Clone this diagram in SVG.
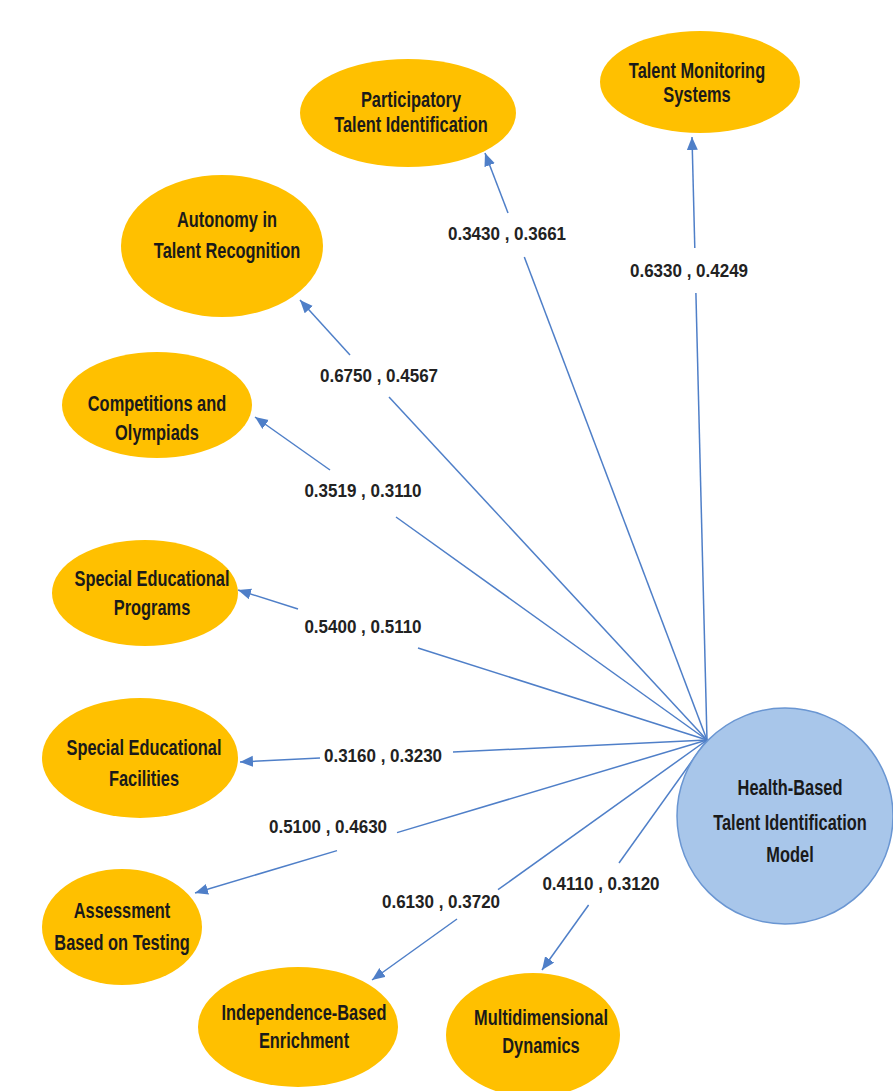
<svg xmlns="http://www.w3.org/2000/svg" width="893" height="1091" viewBox="0 0 893 1091">
  <style>
    .node ellipse { fill: #FFC000; stroke: none; }
    .hub circle { fill: #A8C6EA; stroke: #6A96D2; stroke-width: 1.5; }
    .nt { font-family: "Liberation Sans", Arial, sans-serif; font-weight: bold; font-size: 20px; fill: #1a1a1a; text-anchor: middle; }
    .lb { font-family: "Liberation Sans", Arial, sans-serif; font-weight: bold; font-size: 17px; fill: #222; text-anchor: middle; }
    .conn line { stroke: #4F7FC8; stroke-width: 1.5; fill: none; }
  </style>
  <defs>
    <marker id="ah" markerUnits="userSpaceOnUse" markerWidth="14" markerHeight="12" refX="13" refY="5.5" orient="auto">
      <path d="M0,0 L13,5.5 L0,11 z" fill="#4F7FC8"/>
    </marker>
  </defs>
  <rect width="893" height="1091" fill="#ffffff"/>

  <g id="connectors" class="conn">
    <line x1="694.8" y1="248" x2="692" y2="137" marker-end="url(#ah)"/>
    <line x1="707" y1="740" x2="695.9" y2="293"/>
    <line x1="508" y1="213" x2="485" y2="153" marker-end="url(#ah)"/>
    <line x1="707" y1="740" x2="524.3" y2="257"/>
    <line x1="350" y1="355" x2="300" y2="300" marker-end="url(#ah)"/>
    <line x1="707" y1="740" x2="389" y2="397"/>
    <line x1="330" y1="470" x2="255" y2="417" marker-end="url(#ah)"/>
    <line x1="707" y1="740" x2="396" y2="517"/>
    <line x1="298" y1="609" x2="238" y2="590" marker-end="url(#ah)"/>
    <line x1="707" y1="740" x2="418" y2="648"/>
    <line x1="320" y1="758" x2="240" y2="762" marker-end="url(#ah)"/>
    <line x1="707" y1="740" x2="453" y2="752"/>
    <line x1="337" y1="850.6" x2="195" y2="893" marker-end="url(#ah)"/>
    <line x1="707" y1="740" x2="397" y2="832.6"/>
    <line x1="457" y1="919" x2="372" y2="980" marker-end="url(#ah)"/>
    <line x1="707" y1="740" x2="498" y2="889.7"/>
    <line x1="588.6" y1="905" x2="542" y2="970" marker-end="url(#ah)"/>
    <line x1="707" y1="740" x2="619" y2="863"/>
  </g>

  <g id="labels">
    <text class="lb" transform="translate(507,240) scale(1,1.1)">0.3430 , 0.3661</text>
    <text class="lb" transform="translate(689,277) scale(1,1.1)">0.6330 , 0.4249</text>
    <text class="lb" transform="translate(379,382) scale(1,1.1)">0.6750 , 0.4567</text>
    <text class="lb" transform="translate(363,497) scale(1,1.1)">0.3519 , 0.3110</text>
    <text class="lb" transform="translate(363,633) scale(1,1.1)">0.5400 , 0.5110</text>
    <text class="lb" transform="translate(383,762) scale(1,1.1)">0.3160 , 0.3230</text>
    <text class="lb" transform="translate(328,833) scale(1,1.1)">0.5100 , 0.4630</text>
    <text class="lb" transform="translate(441,908) scale(1,1.1)">0.6130 , 0.3720</text>
    <text class="lb" transform="translate(601,890) scale(1,1.1)">0.4110 , 0.3120</text>
  </g>

  <g id="n-monitoring" class="node">
    <ellipse cx="700" cy="82" rx="100" ry="51"/>
    <text class="nt" transform="translate(697,78) scale(0.82,1.12)">Talent Monitoring</text>
    <text class="nt" transform="translate(697,102) scale(0.82,1.12)">Systems</text>
  </g>
  <g id="n-participatory" class="node">
    <ellipse cx="408" cy="113" rx="108" ry="54"/>
    <text class="nt" transform="translate(411,107) scale(0.82,1.12)">Participatory</text>
    <text class="nt" transform="translate(411,132) scale(0.82,1.12)">Talent Identification</text>
  </g>
  <g id="n-autonomy" class="node">
    <ellipse cx="222" cy="246" rx="101" ry="71"/>
    <text class="nt" transform="translate(227,227) scale(0.82,1.12)">Autonomy in</text>
    <text class="nt" transform="translate(227,258) scale(0.82,1.12)">Talent Recognition</text>
  </g>
  <g id="n-competitions" class="node">
    <ellipse cx="157" cy="405" rx="95" ry="53"/>
    <text class="nt" transform="translate(157,411) scale(0.82,1.12)">Competitions and</text>
    <text class="nt" transform="translate(157,440) scale(0.82,1.12)">Olympiads</text>
  </g>
  <g id="n-programs" class="node">
    <ellipse cx="145" cy="593" rx="93" ry="53"/>
    <text class="nt" transform="translate(152,586) scale(0.82,1.12)">Special Educational</text>
    <text class="nt" transform="translate(152,615) scale(0.82,1.12)">Programs</text>
  </g>
  <g id="n-facilities" class="node">
    <ellipse cx="140" cy="758" rx="98" ry="60"/>
    <text class="nt" transform="translate(144,755) scale(0.82,1.12)">Special Educational</text>
    <text class="nt" transform="translate(144,786) scale(0.82,1.12)">Facilities</text>
  </g>
  <g id="n-assessment" class="node">
    <ellipse cx="122" cy="927" rx="80" ry="58"/>
    <text class="nt" transform="translate(122,918) scale(0.82,1.12)">Assessment</text>
    <text class="nt" transform="translate(122,950) scale(0.82,1.12)">Based on Testing</text>
  </g>
  <g id="n-independence" class="node">
    <ellipse cx="298" cy="1027" rx="100" ry="60"/>
    <text class="nt" transform="translate(304,1020) scale(0.82,1.12)">Independence-Based</text>
    <text class="nt" transform="translate(304,1048) scale(0.82,1.12)">Enrichment</text>
  </g>
  <g id="n-multidimensional" class="node">
    <ellipse cx="533" cy="1035" rx="87" ry="62"/>
    <text class="nt" transform="translate(541,1025) scale(0.82,1.12)">Multidimensional</text>
    <text class="nt" transform="translate(541,1053) scale(0.82,1.12)">Dynamics</text>
  </g>
  <g id="n-hub" class="hub">
    <circle cx="785" cy="816" r="108"/>
    <text class="nt" transform="translate(790,795) scale(0.82,1.12)">Health-Based</text>
    <text class="nt" transform="translate(790,830) scale(0.82,1.12)">Talent Identification</text>
    <text class="nt" transform="translate(790,862) scale(0.82,1.12)">Model</text>
  </g>
</svg>
